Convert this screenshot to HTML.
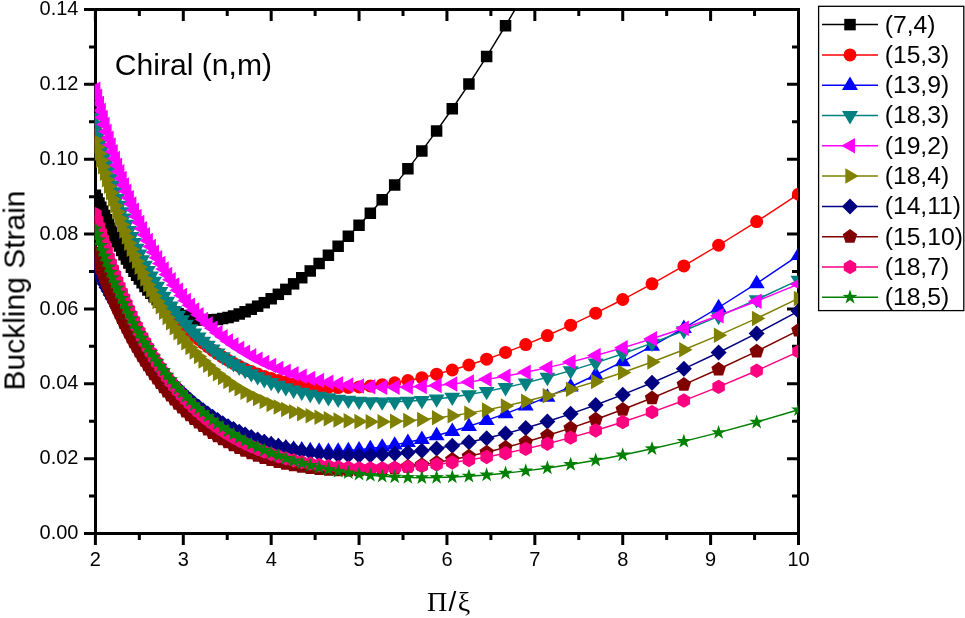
<!DOCTYPE html>
<html><head><meta charset="utf-8"><title>Chiral (n,m) buckling strain</title>
<style>
html,body{margin:0;padding:0;background:#fff}
body{width:965px;height:618px;overflow:hidden}
svg{display:block}
text{font-family:"Liberation Sans",Arial,sans-serif;fill:#000}
.ser{font-family:"Liberation Serif","Times New Roman",serif}
</style></head><body>
<svg width="965" height="618" viewBox="0 0 965 618">
<rect width="965" height="618" fill="#fff"/>
<defs>
<clipPath id="pc"><rect x="94.7" y="8" width="703.5" height="527"/></clipPath>
<marker id="m_sq" markerUnits="userSpaceOnUse" markerWidth="24" markerHeight="24" refX="0" refY="0" viewBox="-12 -12 24 24" overflow="visible"><polygon points="-5.75,-5.75 5.75,-5.75 5.75,5.75 -5.75,5.75" fill="#000000"/></marker>
<marker id="m_ci" markerUnits="userSpaceOnUse" markerWidth="24" markerHeight="24" refX="0" refY="0" viewBox="-12 -12 24 24" overflow="visible"><circle r="6.5" fill="#ff0000"/></marker>
<marker id="m_tu" markerUnits="userSpaceOnUse" markerWidth="24" markerHeight="24" refX="0" refY="0" viewBox="-12 -12 24 24" overflow="visible"><polygon points="0.00,-8.70 8.00,4.70 -8.00,4.70" fill="#0000ff"/></marker>
<marker id="m_td" markerUnits="userSpaceOnUse" markerWidth="24" markerHeight="24" refX="0" refY="0" viewBox="-12 -12 24 24" overflow="visible"><polygon points="0.00,8.90 8.00,-4.40 -8.00,-4.40" fill="#008080"/></marker>
<marker id="m_tl" markerUnits="userSpaceOnUse" markerWidth="24" markerHeight="24" refX="0" refY="0" viewBox="-12 -12 24 24" overflow="visible"><polygon points="-8.70,0.00 5.00,-7.75 5.00,7.75" fill="#ff00ff"/></marker>
<marker id="m_tr" markerUnits="userSpaceOnUse" markerWidth="24" markerHeight="24" refX="0" refY="0" viewBox="-12 -12 24 24" overflow="visible"><polygon points="8.70,0.00 -4.70,-7.75 -4.70,7.75" fill="#808000"/></marker>
<marker id="m_di" markerUnits="userSpaceOnUse" markerWidth="24" markerHeight="24" refX="0" refY="0" viewBox="-12 -12 24 24" overflow="visible"><polygon points="0.00,-8.00 8.00,0.00 0.00,8.00 -8.00,0.00" fill="#000080"/></marker>
<marker id="m_pe" markerUnits="userSpaceOnUse" markerWidth="24" markerHeight="24" refX="0" refY="0" viewBox="-12 -12 24 24" overflow="visible"><polygon points="0.00,-7.60 7.23,-2.35 4.47,6.15 -4.47,6.15 -7.23,-2.35" fill="#800000"/></marker>
<marker id="m_he" markerUnits="userSpaceOnUse" markerWidth="24" markerHeight="24" refX="0" refY="0" viewBox="-12 -12 24 24" overflow="visible"><polygon points="0.00,-7.20 6.24,-3.60 6.24,3.60 0.00,7.20 -6.24,3.60 -6.24,-3.60" fill="#ff0080"/></marker>
<marker id="m_st" markerUnits="userSpaceOnUse" markerWidth="24" markerHeight="24" refX="0" refY="0" viewBox="-12 -12 24 24" overflow="visible"><polygon points="0.00,-7.70 1.76,-2.43 7.32,-2.38 2.85,0.93 4.53,6.23 0.00,3.00 -4.53,6.23 -2.85,0.93 -7.32,-2.38 -1.76,-2.43" fill="#008000"/></marker>
</defs>
<g stroke="#000" stroke-width="3" fill="none" stroke-linecap="butt"><rect x="95.5" y="9.5" width="703.0" height="524.0"/><path d="M94.0 533.50H84.0M797.0 533.50H787.0M94.0 496.07H89.0M797.0 496.07H792.0M94.0 458.64H84.0M797.0 458.64H787.0M94.0 421.21H89.0M797.0 421.21H792.0M94.0 383.79H84.0M797.0 383.79H787.0M94.0 346.36H89.0M797.0 346.36H792.0M94.0 308.93H84.0M797.0 308.93H787.0M94.0 271.50H89.0M797.0 271.50H792.0M94.0 234.07H84.0M797.0 234.07H787.0M94.0 196.64H89.0M797.0 196.64H792.0M94.0 159.21H84.0M797.0 159.21H787.0M94.0 121.79H89.0M797.0 121.79H792.0M94.0 84.36H84.0M797.0 84.36H787.0M94.0 46.93H89.0M797.0 46.93H792.0M94.0 9.50H84.0M95.40 535.0V545.0M95.40 11.0V21.0M139.34 535.0V540.0M139.34 11.0V16.0M183.29 535.0V545.0M183.29 11.0V21.0M227.23 535.0V540.0M227.23 11.0V16.0M271.18 535.0V545.0M271.18 11.0V21.0M315.12 535.0V540.0M315.12 11.0V16.0M359.06 535.0V545.0M359.06 11.0V21.0M403.01 535.0V540.0M403.01 11.0V16.0M446.95 535.0V545.0M446.95 11.0V21.0M490.89 535.0V540.0M490.89 11.0V16.0M534.84 535.0V545.0M534.84 11.0V21.0M578.78 535.0V540.0M578.78 11.0V16.0M622.73 535.0V545.0M622.73 11.0V21.0M666.67 535.0V540.0M666.67 11.0V16.0M710.61 535.0V545.0M710.61 11.0V21.0M754.56 535.0V540.0M754.56 11.0V16.0M798.50 535.0V545.0M798.50 11.0V21.0"/></g>
<g clip-path="url(#pc)">
<polyline points="798.50,-608.04 756.65,-504.15 718.60,-412.25 683.86,-331.13 652.02,-259.57 622.73,-196.43 595.68,-140.66 570.64,-91.33 547.39,-47.62 525.75,-8.80 505.54,25.74 486.64,56.55 468.92,84.09 452.28,108.77 436.61,130.93 421.84,150.88 407.89,168.87 394.69,185.12 382.19,199.83 370.33,213.16 359.06,225.25 348.34,236.23 338.14,246.20 328.40,255.26 319.11,263.49 310.24,270.96 301.74,277.72 293.61,283.84 285.82,289.36 278.35,294.32 271.18,298.75 264.28,302.69 257.65,306.17 251.28,309.21 245.13,311.84 239.22,314.07 233.51,315.92 228.00,317.41 222.69,318.56 217.55,319.38 212.58,319.87 207.78,320.07 203.13,319.96 198.63,319.58 194.27,318.92 190.05,318.00 185.95,316.82 181.98,315.41 178.12,313.76 174.37,311.88 170.73,309.79 167.20,307.49 163.76,305.00 160.41,302.32 157.16,299.46 153.99,296.43 150.91,293.24 147.90,289.90 144.98,286.42 142.12,282.80 139.34,279.07 136.63,275.23 133.98,271.28 131.40,267.24 128.88,263.12 126.42,258.93 124.01,254.68 121.67,250.38 119.37,246.04 117.12,241.68 114.93,237.30 112.78,232.91 110.68,228.53 108.63,224.17 106.62,219.84 104.65,215.55 102.72,211.31 100.84,207.14 98.99,203.05 97.18,199.04 95.40,195.15" fill="none" stroke="#000000" stroke-width="1.45" marker-start="url(#m_sq)" marker-mid="url(#m_sq)" marker-end="url(#m_sq)"/>
<polyline points="798.50,194.21 756.65,221.54 718.60,245.25 683.86,265.88 652.02,283.85 622.73,299.52 595.68,313.20 570.64,325.13 547.39,335.53 525.75,344.57 505.54,352.41 486.64,359.19 468.92,365.01 452.28,369.98 436.61,374.17 421.84,377.68 407.89,380.56 394.69,382.87 382.19,384.67 370.33,385.99 359.06,386.89 348.34,387.39 338.14,387.53 328.40,387.34 319.11,386.84 310.24,386.05 301.74,385.00 293.61,383.71 285.82,382.19 278.35,380.45 271.18,378.51 264.28,376.39 257.65,374.08 251.28,371.62 245.13,368.99 239.22,366.21 233.51,363.29 228.00,360.23 222.69,357.04 217.55,353.72 212.58,350.29 207.78,346.73 203.13,343.06 198.63,339.28 194.27,335.40 190.05,331.40 185.95,327.31 181.98,323.11 178.12,318.81 174.37,314.42 170.73,309.92 167.20,305.33 163.76,300.64 160.41,295.86 157.16,290.98 153.99,286.00 150.91,280.93 147.90,275.76 144.98,270.50 142.12,265.13 139.34,259.67 136.63,254.11 133.98,248.45 131.40,242.69 128.88,236.82 126.42,230.86 124.01,224.79 121.67,218.61 119.37,212.33 117.12,205.93 114.93,199.43 112.78,192.81 110.68,186.09 108.63,179.24 106.62,172.28 104.65,165.20 102.72,158.00 100.84,150.68 98.99,143.23 97.18,135.66 95.40,127.95" fill="none" stroke="#ff0000" stroke-width="1.45" marker-start="url(#m_ci)" marker-mid="url(#m_ci)" marker-end="url(#m_ci)"/>
<polyline points="798.50,255.33 756.65,283.45 718.60,307.50 683.86,328.19 652.02,346.06 622.73,361.55 595.68,375.02 570.64,386.74 547.39,396.95 525.75,405.86 505.54,413.62 486.64,420.36 468.92,426.20 452.28,431.24 436.61,435.56 421.84,439.23 407.89,442.31 394.69,444.86 382.19,446.91 370.33,448.52 359.06,449.72 348.34,450.54 338.14,451.00 328.40,451.14 319.11,450.97 310.24,450.52 301.74,449.80 293.61,448.83 285.82,447.62 278.35,446.20 271.18,444.57 264.28,442.74 257.65,440.73 251.28,438.54 245.13,436.19 239.22,433.69 233.51,431.04 228.00,428.25 222.69,425.33 217.55,422.28 212.58,419.12 207.78,415.85 203.13,412.48 198.63,409.01 194.27,405.45 190.05,401.81 185.95,398.08 181.98,394.28 178.12,390.42 174.37,386.49 170.73,382.50 167.20,378.46 163.76,374.37 160.41,370.24 157.16,366.07 153.99,361.87 150.91,357.64 147.90,353.38 144.98,349.10 142.12,344.81 139.34,340.51 136.63,336.20 133.98,331.89 131.40,327.58 128.88,323.28 126.42,318.99 124.01,314.71 121.67,310.45 119.37,306.22 117.12,302.01 114.93,297.84 112.78,293.70 110.68,289.60 108.63,285.55 106.62,281.54 104.65,277.59 102.72,273.69 100.84,269.85 98.99,266.08 97.18,262.37 95.40,258.74" fill="none" stroke="#0000ff" stroke-width="1.45" marker-start="url(#m_tu)" marker-mid="url(#m_tu)" marker-end="url(#m_tu)"/>
<polyline points="798.50,280.17 756.65,299.61 718.60,316.32 683.86,330.71 652.02,343.08 622.73,353.72 595.68,362.83 570.64,370.63 547.39,377.25 525.75,382.84 505.54,387.52 486.64,391.39 468.92,394.54 452.28,397.04 436.61,398.95 421.84,400.34 407.89,401.26 394.69,401.76 382.19,401.86 370.33,401.61 359.06,401.04 348.34,400.18 338.14,399.04 328.40,397.66 319.11,396.05 310.24,394.23 301.74,392.21 293.61,390.01 285.82,387.65 278.35,385.12 271.18,382.44 264.28,379.63 257.65,376.68 251.28,373.61 245.13,370.41 239.22,367.11 233.51,363.69 228.00,360.17 222.69,356.55 217.55,352.83 212.58,349.02 207.78,345.11 203.13,341.11 198.63,337.02 194.27,332.84 190.05,328.57 185.95,324.22 181.98,319.77 178.12,315.24 174.37,310.63 170.73,305.92 167.20,301.13 163.76,296.25 160.41,291.28 157.16,286.22 153.99,281.07 150.91,275.83 147.90,270.49 144.98,265.06 142.12,259.53 139.34,253.90 136.63,248.17 133.98,242.34 131.40,236.40 128.88,230.36 126.42,224.21 124.01,217.94 121.67,211.57 119.37,205.08 117.12,198.47 114.93,191.74 112.78,184.89 110.68,177.91 108.63,170.81 106.62,163.58 104.65,156.21 102.72,148.71 100.84,141.07 98.99,133.29 97.18,125.37 95.40,117.30" fill="none" stroke="#008080" stroke-width="1.45" marker-start="url(#m_td)" marker-mid="url(#m_td)" marker-end="url(#m_td)"/>
<polyline points="798.50,284.13 756.65,301.25 718.60,315.80 683.86,328.20 652.02,338.79 622.73,347.82 595.68,355.53 570.64,362.08 547.39,367.63 525.75,372.29 505.54,376.17 486.64,379.36 468.92,381.92 452.28,383.92 436.61,385.42 421.84,386.46 407.89,387.08 394.69,387.32 382.19,387.20 370.33,386.76 359.06,386.01 348.34,384.98 338.14,383.69 328.40,382.15 319.11,380.38 310.24,378.39 301.74,376.19 293.61,373.80 285.82,371.22 278.35,368.46 271.18,365.54 264.28,362.45 257.65,359.21 251.28,355.82 245.13,352.28 239.22,348.61 233.51,344.81 228.00,340.88 222.69,336.83 217.55,332.65 212.58,328.37 207.78,323.96 203.13,319.45 198.63,314.84 194.27,310.12 190.05,305.30 185.95,300.39 181.98,295.38 178.12,290.27 174.37,285.08 170.73,279.80 167.20,274.43 163.76,268.98 160.41,263.45 157.16,257.84 153.99,252.16 150.91,246.39 147.90,240.55 144.98,234.64 142.12,228.66 139.34,222.61 136.63,216.49 133.98,210.30 131.40,204.05 128.88,197.74 126.42,191.36 124.01,184.92 121.67,178.42 119.37,171.87 117.12,165.26 114.93,158.59 112.78,151.87 110.68,145.10 108.63,138.27 106.62,131.40 104.65,124.47 102.72,117.50 100.84,110.48 98.99,103.41 97.18,96.30 95.40,89.15" fill="none" stroke="#ff00ff" stroke-width="1.45" marker-start="url(#m_tl)" marker-mid="url(#m_tl)" marker-end="url(#m_tl)"/>
<polyline points="798.50,298.42 756.65,318.39 718.60,335.32 683.86,349.72 652.02,362.01 622.73,372.51 595.68,381.49 570.64,389.16 547.39,395.71 525.75,401.27 505.54,405.96 486.64,409.89 468.92,413.14 452.28,415.78 436.61,417.87 421.84,419.47 407.89,420.62 394.69,421.35 382.19,421.71 370.33,421.72 359.06,421.40 348.34,420.78 338.14,419.89 328.40,418.73 319.11,417.32 310.24,415.68 301.74,413.82 293.61,411.75 285.82,409.48 278.35,407.02 271.18,404.38 264.28,401.57 257.65,398.59 251.28,395.46 245.13,392.17 239.22,388.74 233.51,385.16 228.00,381.45 222.69,377.61 217.55,373.64 212.58,369.55 207.78,365.34 203.13,361.02 198.63,356.58 194.27,352.04 190.05,347.39 185.95,342.65 181.98,337.80 178.12,332.87 174.37,327.84 170.73,322.72 167.20,317.51 163.76,312.23 160.41,306.86 157.16,301.41 153.99,295.89 150.91,290.30 147.90,284.64 144.98,278.90 142.12,273.11 139.34,267.25 136.63,261.33 133.98,255.35 131.40,249.32 128.88,243.23 126.42,237.09 124.01,230.90 121.67,224.66 119.37,218.38 117.12,212.05 114.93,205.69 112.78,199.29 110.68,192.85 108.63,186.37 106.62,179.86 104.65,173.33 102.72,166.76 100.84,160.17 98.99,153.56 97.18,146.92 95.40,140.26" fill="none" stroke="#808000" stroke-width="1.45" marker-start="url(#m_tr)" marker-mid="url(#m_tr)" marker-end="url(#m_tr)"/>
<polyline points="798.50,311.05 756.65,333.46 718.60,352.52 683.86,368.79 652.02,382.73 622.73,394.70 595.68,405.00 570.64,413.85 547.39,421.46 525.75,427.99 505.54,433.57 486.64,438.31 468.92,442.32 452.28,445.66 436.61,448.42 421.84,450.64 407.89,452.39 394.69,453.70 382.19,454.62 370.33,455.17 359.06,455.39 348.34,455.31 338.14,454.94 328.40,454.32 319.11,453.45 310.24,452.35 301.74,451.05 293.61,449.55 285.82,447.87 278.35,446.01 271.18,444.00 264.28,441.83 257.65,439.53 251.28,437.09 245.13,434.52 239.22,431.83 233.51,429.04 228.00,426.14 222.69,423.14 217.55,420.05 212.58,416.87 207.78,413.61 203.13,410.28 198.63,406.87 194.27,403.40 190.05,399.86 185.95,396.27 181.98,392.62 178.12,388.93 174.37,385.19 170.73,381.40 167.20,377.58 163.76,373.73 160.41,369.85 157.16,365.94 153.99,362.01 150.91,358.05 147.90,354.09 144.98,350.11 142.12,346.12 139.34,342.12 136.63,338.13 133.98,334.13 131.40,330.14 128.88,326.15 126.42,322.18 124.01,318.22 121.67,314.27 119.37,310.35 117.12,306.45 114.93,302.57 112.78,298.72 110.68,294.90 108.63,291.12 106.62,287.38 104.65,283.67 102.72,280.01 100.84,276.40 98.99,272.84 97.18,269.32 95.40,265.87" fill="none" stroke="#000080" stroke-width="1.45" marker-start="url(#m_di)" marker-mid="url(#m_di)" marker-end="url(#m_di)"/>
<polyline points="798.50,330.37 756.65,351.33 718.60,369.28 683.86,384.71 652.02,398.02 622.73,409.52 595.68,419.47 570.64,428.09 547.39,435.54 525.75,441.98 505.54,447.52 486.64,452.26 468.92,456.30 452.28,459.71 436.61,462.54 421.84,464.86 407.89,466.72 394.69,468.15 382.19,469.18 370.33,469.86 359.06,470.21 348.34,470.26 338.14,470.02 328.40,469.51 319.11,468.76 310.24,467.78 301.74,466.59 293.61,465.19 285.82,463.60 278.35,461.83 271.18,459.89 264.28,457.78 257.65,455.53 251.28,453.13 245.13,450.59 239.22,447.91 233.51,445.11 228.00,442.19 222.69,439.16 217.55,436.02 212.58,432.77 207.78,429.42 203.13,425.97 198.63,422.43 194.27,418.81 190.05,415.10 185.95,411.30 181.98,407.43 178.12,403.49 174.37,399.47 170.73,395.39 167.20,391.23 163.76,387.02 160.41,382.75 157.16,378.41 153.99,374.03 150.91,369.59 147.90,365.10 144.98,360.56 142.12,355.98 139.34,351.35 136.63,346.69 133.98,341.98 131.40,337.24 128.88,332.46 126.42,327.65 124.01,322.81 121.67,317.94 119.37,313.05 117.12,308.13 114.93,303.19 112.78,298.22 110.68,293.24 108.63,288.24 106.62,283.23 104.65,278.20 102.72,273.17 100.84,268.12 98.99,263.06 97.18,258.00 95.40,252.93" fill="none" stroke="#800000" stroke-width="1.45" marker-start="url(#m_pe)" marker-mid="url(#m_pe)" marker-end="url(#m_pe)"/>
<polyline points="798.50,351.57 756.65,370.73 718.60,386.88 683.86,400.55 652.02,412.15 622.73,422.03 595.68,430.45 570.64,437.62 547.39,443.73 525.75,448.91 505.54,453.29 486.64,456.96 468.92,460.01 452.28,462.49 436.61,464.48 421.84,466.02 407.89,467.16 394.69,467.92 382.19,468.34 370.33,468.45 359.06,468.27 348.34,467.82 338.14,467.11 328.40,466.18 319.11,465.02 310.24,463.65 301.74,462.08 293.61,460.33 285.82,458.40 278.35,456.29 271.18,454.02 264.28,451.60 257.65,449.02 251.28,446.30 245.13,443.43 239.22,440.44 233.51,437.31 228.00,434.05 222.69,430.68 217.55,427.18 212.58,423.57 207.78,419.84 203.13,416.01 198.63,412.07 194.27,408.03 190.05,403.89 185.95,399.65 181.98,395.32 178.12,390.90 174.37,386.38 170.73,381.78 167.20,377.10 163.76,372.33 160.41,367.48 157.16,362.56 153.99,357.56 150.91,352.48 147.90,347.34 144.98,342.13 142.12,336.85 139.34,331.50 136.63,326.10 133.98,320.63 131.40,315.10 128.88,309.52 126.42,303.89 124.01,298.20 121.67,292.46 119.37,286.67 117.12,280.84 114.93,274.96 112.78,269.04 110.68,263.08 108.63,257.09 106.62,251.05 104.65,244.98 102.72,238.88 100.84,232.75 98.99,226.59 97.18,220.40 95.40,214.19" fill="none" stroke="#ff0080" stroke-width="1.45" marker-start="url(#m_he)" marker-mid="url(#m_he)" marker-end="url(#m_he)"/>
<polyline points="798.50,409.81 756.65,422.20 718.60,432.62 683.86,441.39 652.02,448.78 622.73,454.98 595.68,460.17 570.64,464.48 547.39,468.02 525.75,470.88 505.54,473.16 486.64,474.91 468.92,476.19 452.28,477.06 436.61,477.54 421.84,477.68 407.89,477.51 394.69,477.05 382.19,476.34 370.33,475.38 359.06,474.20 348.34,472.81 338.14,471.24 328.40,469.48 319.11,467.56 310.24,465.48 301.74,463.25 293.61,460.89 285.82,458.39 278.35,455.77 271.18,453.03 264.28,450.17 257.65,447.21 251.28,444.15 245.13,440.98 239.22,437.73 233.51,434.38 228.00,430.94 222.69,427.42 217.55,423.82 212.58,420.14 207.78,416.39 203.13,412.56 198.63,408.67 194.27,404.70 190.05,400.67 185.95,396.57 181.98,392.42 178.12,388.20 174.37,383.92 170.73,379.58 167.20,375.19 163.76,370.75 160.41,366.25 157.16,361.70 153.99,357.10 150.91,352.45 147.90,347.75 144.98,343.01 142.12,338.22 139.34,333.38 136.63,328.51 133.98,323.59 131.40,318.63 128.88,313.63 126.42,308.59 124.01,303.51 121.67,298.40 119.37,293.25 117.12,288.06 114.93,282.84 112.78,277.58 110.68,272.29 108.63,266.97 106.62,261.62 104.65,256.24 102.72,250.83 100.84,245.39 98.99,239.92 97.18,234.42 95.40,228.90" fill="none" stroke="#008000" stroke-width="1.45" marker-start="url(#m_st)" marker-mid="url(#m_st)" marker-end="url(#m_st)"/>
</g>
<g stroke="#000" stroke-width="3"><path d="M94 533.5H800"/></g>
<g opacity="0.999">
<g font-size="20" text-anchor="end">
<text x="78.5" y="539.1">0.00</text><text x="78.5" y="464.2">0.02</text><text x="78.5" y="389.4">0.04</text><text x="78.5" y="314.5">0.06</text><text x="78.5" y="239.7">0.08</text><text x="78.5" y="164.8">0.10</text><text x="78.5" y="90.0">0.12</text><text x="78.5" y="15.1">0.14</text>
</g>
<g font-size="20" text-anchor="middle">
<text x="95.4" y="566">2</text><text x="183.3" y="566">3</text><text x="271.2" y="566">4</text><text x="359.1" y="566">5</text><text x="447.0" y="566">6</text><text x="534.8" y="566">7</text><text x="622.7" y="566">8</text><text x="710.6" y="566">9</text><text x="798.5" y="566">10</text>
</g>
<text x="114.8" y="74.5" font-size="30.1">Chiral (n,m)</text>
<text transform="translate(24.5,290.5) rotate(-90)" font-size="30" text-anchor="middle">Buckling Strain</text>
<text x="427" y="610.8" font-size="28" letter-spacing="1.3"><tspan class="ser">Π</tspan>/<tspan class="ser">ξ</tspan></text>
<rect x="818.6" y="6.3" width="145.2" height="304.3" fill="#fff" stroke="#000" stroke-width="1.3"/>
<g transform="translate(850,24.60)"><path d="M-28 0H28" stroke="#000000" stroke-width="1.5"/><polygon points="-5.75,-5.75 5.75,-5.75 5.75,5.75 -5.75,5.75" fill="#000000"/></g><text x="884.7" y="32.5" font-size="24.7">(7,4)</text>
<g transform="translate(850,54.90)"><path d="M-28 0H28" stroke="#ff0000" stroke-width="1.5"/><circle r="6.5" fill="#ff0000"/></g><text x="884.7" y="62.8" font-size="24.7">(15,3)</text>
<g transform="translate(850,85.20)"><path d="M-28 0H28" stroke="#0000ff" stroke-width="1.5"/><polygon points="0.00,-8.70 8.00,4.70 -8.00,4.70" fill="#0000ff"/></g><text x="884.7" y="93.1" font-size="24.7">(13,9)</text>
<g transform="translate(850,115.50)"><path d="M-28 0H28" stroke="#008080" stroke-width="1.5"/><polygon points="0.00,8.90 8.00,-4.40 -8.00,-4.40" fill="#008080"/></g><text x="884.7" y="123.4" font-size="24.7">(18,3)</text>
<g transform="translate(850,145.80)"><path d="M-28 0H28" stroke="#ff00ff" stroke-width="1.5"/><polygon points="-8.70,0.00 5.00,-7.75 5.00,7.75" fill="#ff00ff"/></g><text x="884.7" y="153.7" font-size="24.7">(19,2)</text>
<g transform="translate(850,176.10)"><path d="M-28 0H28" stroke="#808000" stroke-width="1.5"/><polygon points="8.70,0.00 -4.70,-7.75 -4.70,7.75" fill="#808000"/></g><text x="884.7" y="184.0" font-size="24.7">(18,4)</text>
<g transform="translate(850,206.40)"><path d="M-28 0H28" stroke="#000080" stroke-width="1.5"/><polygon points="0.00,-8.00 8.00,0.00 0.00,8.00 -8.00,0.00" fill="#000080"/></g><text x="884.7" y="214.3" font-size="24.7">(14,11)</text>
<g transform="translate(850,236.70)"><path d="M-28 0H28" stroke="#800000" stroke-width="1.5"/><polygon points="0.00,-7.60 7.23,-2.35 4.47,6.15 -4.47,6.15 -7.23,-2.35" fill="#800000"/></g><text x="884.7" y="244.6" font-size="24.7">(15,10)</text>
<g transform="translate(850,267.00)"><path d="M-28 0H28" stroke="#ff0080" stroke-width="1.5"/><polygon points="0.00,-7.20 6.24,-3.60 6.24,3.60 0.00,7.20 -6.24,3.60 -6.24,-3.60" fill="#ff0080"/></g><text x="884.7" y="274.9" font-size="24.7">(18,7)</text>
<g transform="translate(850,297.30)"><path d="M-28 0H28" stroke="#008000" stroke-width="1.5"/><polygon points="0.00,-7.70 1.76,-2.43 7.32,-2.38 2.85,0.93 4.53,6.23 0.00,3.00 -4.53,6.23 -2.85,0.93 -7.32,-2.38 -1.76,-2.43" fill="#008000"/></g><text x="884.7" y="305.2" font-size="24.7">(18,5)</text>
</g>
</svg></body></html>
